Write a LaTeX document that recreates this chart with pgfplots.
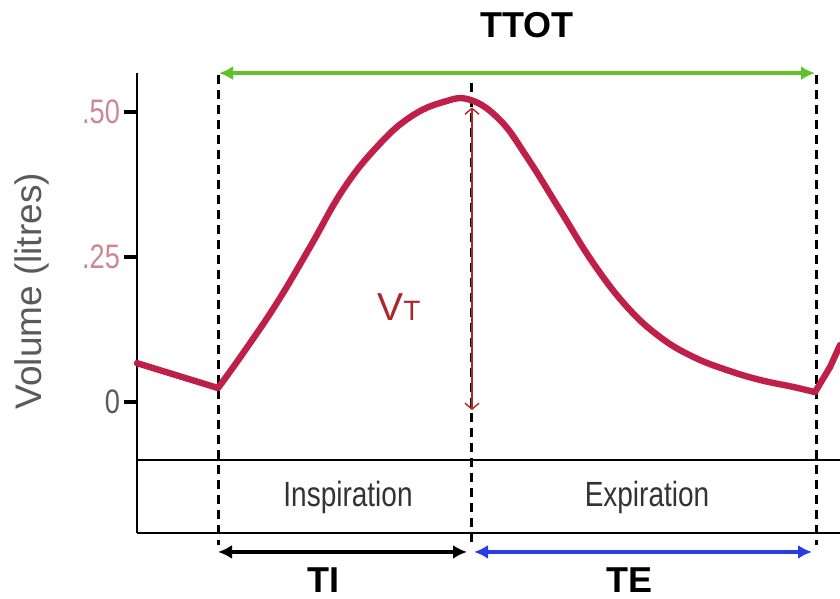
\documentclass[border=0pt]{standalone}
\usepackage{fontspec}
\setmainfont{Liberation Sans}
\usepackage{graphicx}
\usepackage{pgfplots}
\pgfplotsset{compat=1.18}
\usetikzlibrary{arrows.meta}
\definecolor{curvecol}{RGB}{190,32,72}
\definecolor{vtcol}{RGB}{170,40,40}
\definecolor{tickpink}{RGB}{205,135,145}
\definecolor{ttotgreen}{RGB}{95,195,40}
\definecolor{teblue}{RGB}{40,60,225}
\definecolor{labgray}{RGB}{90,90,90}
\begin{document}
\begin{tikzpicture}
\useasboundingbox (0,0) rectangle (420pt,299.5pt);
\begin{axis}[
  at={(68.5pt,33pt)}, anchor=south west,
  scale only axis, width=351.5pt, height=230pt,
  xmin=0, xmax=703, ymin=-0.2259, ymax=0.5672,
  clip=false,
  axis x line=bottom, axis y line=left,
  axis line style={-, line width=1.3pt, black},
  xtick=\empty,
  ytick={0,0.25,0.5},
  yticklabels={\textcolor{labgray}{\scalebox{0.8}[1]{0}},\textcolor{tickpink}{\scalebox{0.8}[1]{.25}},\textcolor{tickpink}{\scalebox{0.8}[1]{.50}}},
  yticklabel style={font=\fontsize{17}{17}\selectfont, anchor=east},
  tick align=outside, major tick length=5pt,
  ytick style={line width=1pt, draw=black},
]
% y tick marks
\draw[line width=1.6pt, black] (axis cs:-13,0) -- (axis cs:0,0);
\draw[line width=1.6pt, black] (axis cs:-13,0.25) -- (axis cs:0,0.25);
\draw[line width=1.6pt, black] (axis cs:-13,0.5) -- (axis cs:0,0.5);
% inner horizontal line
\draw[line width=1pt] (axis cs:0,-0.1) -- (axis cs:703,-0.1);
% vertical dashed lines
\draw[line width=1.5pt, dash pattern=on 4.5pt off 3pt] (axis cs:81,0.564) -- (axis cs:81,-0.247);
\draw[line width=1.5pt, dash pattern=on 4.5pt off 3pt] (axis cs:334,0.55) -- (axis cs:334,-0.247);
\draw[line width=1.5pt, dash pattern=on 4.5pt off 3pt] (axis cs:679,0.564) -- (axis cs:679,-0.247);
% volume curve
\addplot[curvecol, line width=3.2pt, line join=round, line cap=round] coordinates {
 (0,0.067) (81,0.024)
};
\addplot[curvecol, line width=3.2pt, line join=round, line cap=round, smooth, tension=0.7] coordinates {
 (81,0.024) (106,0.084) (140,0.171) (173,0.267) (206,0.366) (240,0.440) (273,0.491)
 (306,0.517) (333,0.521) (363,0.486) (390,0.422) (423,0.331) (456,0.240) (490,0.164)
 (523,0.112) (556,0.078) (590,0.055) (623,0.038) (656,0.026) (678,0.017)
};
\addplot[curvecol, line width=3.2pt, line join=round, line cap=round] coordinates {
 (678,0.017) (693,0.060) (703,0.098)
};
% VT arrow
\draw[vtcol, line width=0.7pt, {Straight Barb[length=3pt,width=7pt]}-{Straight Barb[length=3pt,width=7pt]}] (axis cs:335,0.508) -- (axis cs:335,-0.014);
\node[vtcol, anchor=base west, inner sep=0pt] at (axis cs:240,0.141) {\fontsize{19.5}{19.5}\selectfont V\fontsize{14}{14}\selectfont T};
% TTOT arrow
\draw[ttotgreen, line width=2pt, {Latex[length=7pt,width=7pt]}-{Latex[length=7pt,width=7pt]}] (axis cs:82,0.567) -- (axis cs:678,0.567);
\node[anchor=base, inner sep=0pt] at (axis cs:390,0.629) {\fontsize{18}{18}\selectfont\bfseries TTOT};
% TI, TE arrows
\draw[black, line width=2pt, {Latex[length=7pt,width=7pt]}-{Latex[length=7pt,width=7pt]}] (axis cs:81,-0.2586) -- (axis cs:330,-0.2586);
\draw[teblue, line width=2pt, {Latex[length=7pt,width=7pt]}-{Latex[length=7pt,width=7pt]}] (axis cs:337,-0.2586) -- (axis cs:675,-0.2586);
\node[anchor=base, inner sep=0pt] at (axis cs:186,-0.328) {\fontsize{18}{18}\selectfont\bfseries TI};
\node[anchor=base, inner sep=0pt] at (axis cs:492,-0.328) {\fontsize{18}{18}\selectfont\bfseries TE};
% phase labels
\node[anchor=base, inner sep=0pt, text=black!80] at (axis cs:211,-0.181) {\fontsize{17.5}{17.5}\selectfont\scalebox{0.8}[1]{Inspiration}};
\node[anchor=base, inner sep=0pt, text=black!80] at (axis cs:510,-0.181) {\fontsize{17.5}{17.5}\selectfont\scalebox{0.8}[1]{Expiration}};
% y label
\node[rotate=90, text=labgray, inner sep=0pt] at (axis cs:-105,0.191) {\fontsize{18.5}{18.5}\selectfont Volume (litres)};
\end{axis}
\end{tikzpicture}
\end{document}
